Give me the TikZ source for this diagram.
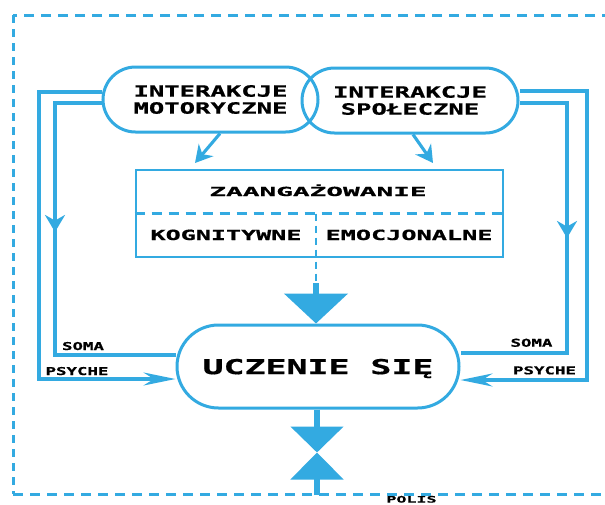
\documentclass[tikz,border=0pt]{standalone}
\usepackage{fontspec}
\usepackage{graphicx}
\newfontfamily\dmono{DejaVu Sans Mono}[BoldFeatures={FakeBold=0.6}]
\usetikzlibrary{arrows.meta,shapes.misc}
\definecolor{sky}{RGB}{51,170,225}
\newcommand{\hstr}[2]{\scalebox{#1}[1]{#2}}
\begin{document}
\begin{tikzpicture}[x=1pt,y=-1pt,
  ln/.style={draw=sky,line width=3.1pt},
  oval/.style={shape=rounded rectangle,draw=sky,line width=3pt,inner sep=0pt,text=black},
  big/.style={font=\dmono\bfseries\fontsize{15.5pt}{17pt}\selectfont},
  mid/.style={font=\dmono\bfseries\fontsize{14pt}{16pt}\selectfont,text=black,inner sep=0pt,anchor=base},
  sml/.style={font=\dmono\bfseries\fontsize{10.8pt}{12pt}\selectfont,text=black,inner sep=0pt,anchor=base},
  harr/.style={-{Stealth[length=32pt,width=13pt]}},
  varr/.style={-{Stealth[length=17pt,width=20pt]}},
  darr/.style={-{Stealth[length=17pt,width=19pt]}},
  fat/.style={draw=sky,line width=5.5pt},
  frame/.style={draw=sky,line width=3pt}
]
\useasboundingbox (0,0) rectangle (605,504);
\fill[white] (0,0) rectangle (605,504);

% outer dashed frame
\draw[frame,dash pattern=on 10pt off 7pt] (612,15) -- (13,15);
\draw[frame,dash pattern=on 8pt off 6pt] (13,15) -- (13,494);
\draw[frame,dash pattern=on 10pt off 7pt] (13,494) -- (612,494);

% nodes
\node[oval,big,align=center,minimum width=215pt,minimum height=65pt] (motor) at (210.5,99.5)
  {\hstr{1.65}{INTERAKCJE}\\\hstr{1.65}{MOTORYCZNE}};
\node[oval,big,align=center,minimum width=216pt,minimum height=65pt] (social) at (410,100.5)
  {\hstr{1.65}{INTERAKCJE}\\\hstr{1.65}{SPOŁECZNE}};

\node[draw=sky,line width=2.6pt,minimum width=367pt,minimum height=87pt,inner sep=0pt] (zaang) at (319.5,213.5) {};
\node[mid,font=\dmono\bfseries\fontsize{12.5pt}{14pt}\selectfont] (zt) at (318,196) {\hstr{2.22}{ZAANGAŻOWANIE}};
\node[mid] (kog) at (226,240) {\hstr{1.79}{KOGNITYWNE}};
\node[mid] (emo) at (409,240) {\hstr{1.80}{EMOCJONALNE}};

\node[oval,font=\dmono\bfseries\fontsize{20.5pt}{23pt}\selectfont,minimum width=282pt,minimum height=83pt,text depth=0pt] (learn) at (318,366.5)
  {\hstr{1.70}{UCZENIE SIĘ}};

\node[sml] (somaL) at (83,350) {\hstr{1.61}{SOMA}};
\node[sml] (psyL) at (77,375) {\hstr{1.61}{PSYCHE}};
\node[sml] (somaR) at (531.5,346.7) {\hstr{1.61}{SOMA}};
\node[sml] (psyR) at (544.5,374.3) {\hstr{1.61}{PSYCHE}};
\node[sml,font=\dmono\bfseries\fontsize{9pt}{10pt}\selectfont] (polis) at (411.5,502.6) {\hstr{1.85}{POLIS}};

% coordinates
\coordinate (tl) at (195,163);
\coordinate (tr) at (433,163);
\coordinate (split) at (316,213.5);
\coordinate (shaft) at (316,283);
\coordinate (meet) at (317,452.5);
\coordinate (base) at (317,495);

% side loops
\draw[ln,harr] ([yshift=7.5pt]motor.west) -| (39,240) |- ([yshift=-12.5pt]learn.west);
\draw[ln,varr] ([yshift=-3.5pt]motor.west) -| (55,232);
\draw[ln] (55,222) |- ([yshift=11.5pt]learn.west);

\draw[ln,harr] ([yshift=9.5pt]social.east) -| (587,240) |- ([yshift=-13.5pt]learn.east);
\draw[ln,varr] ([yshift=-2.5pt]social.east) -| (567,238);
\draw[ln] (567,228) |- ([yshift=13.5pt]learn.east);

% diagonal arrows
\draw[ln,darr] ([xshift=9.5pt]motor.south) -- (tl);
\draw[ln,darr] ([xshift=3pt]social.south) -- (tr);

% inside box
\draw[sky,line width=2.3pt,dash pattern=on 10pt off 7pt] (zaang.west) -- (zaang.east);
\draw[sky,line width=2.5pt,dash pattern=on 7pt off 5pt] (split) -- (shaft);
\draw[fat,-{Triangle[length=30pt,width=63pt]}] (shaft) -- (shaft |- learn.north);

% bottom
\draw[fat,-{Triangle[length=26pt,width=52pt]}] (learn.south -| meet) -- (meet);
\draw[fat,-{Triangle[length=27pt,width=52pt]}] (base) -- (meet);
\end{tikzpicture}
\end{document}
